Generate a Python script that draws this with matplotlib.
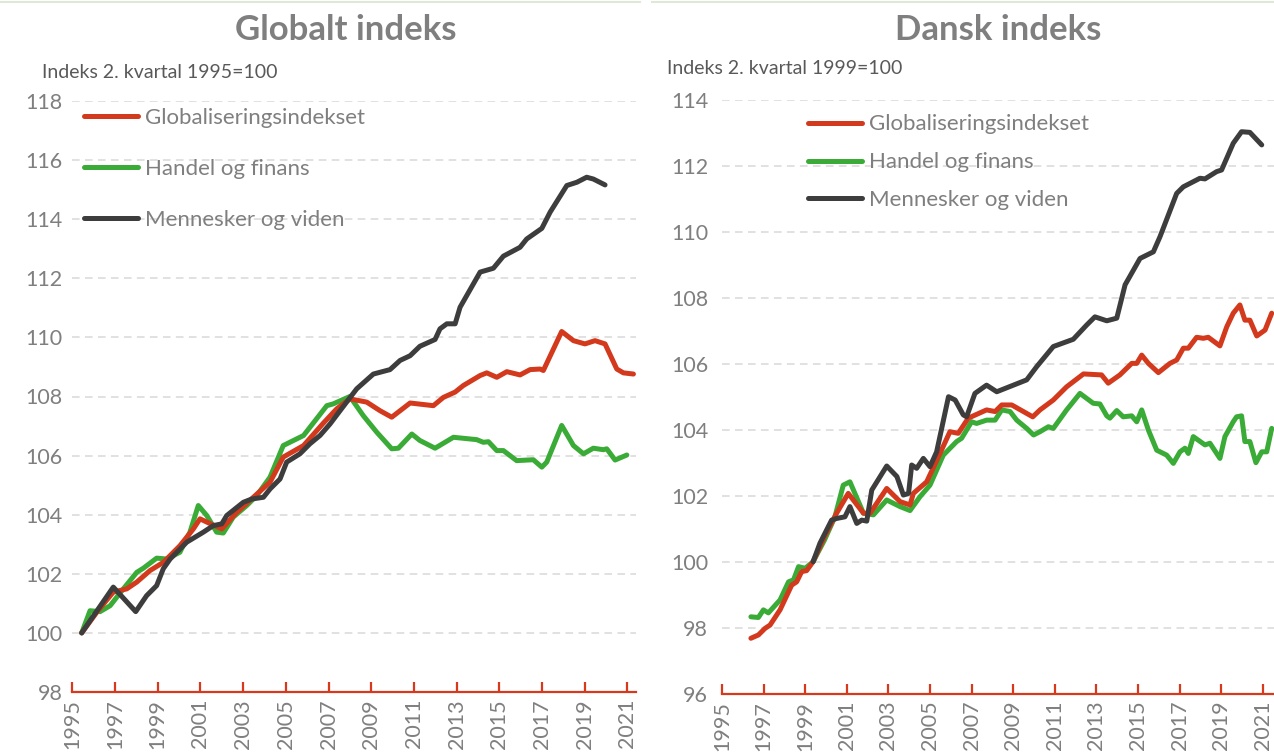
import matplotlib
matplotlib.use("Agg")
import matplotlib.pyplot as plt
import numpy as np

# ---------------- data ----------------
series_names = ["Globaliseringsindekset", "Handel og finans", "Mennesker og viden"]

glob_red_x = [1995.44, 1996.2, 1996.92, 1997.55, 1998.02, 1998.64, 1999.27, 2000.04, 2000.67, 2000.98,
              2001.30, 2002.00, 2002.70, 2003.48, 2004.26, 2004.88, 2005.83, 2006.76, 2007.38, 2008.00,
              2008.79, 2009.41, 2009.96, 2010.82, 2011.91, 2012.38, 2012.93, 2013.31, 2014.10, 2014.41,
              2014.88, 2015.35, 2015.97, 2016.44, 2016.91, 2017.06, 2017.92, 2018.47, 2019.01, 2019.48,
              2019.95, 2020.50, 2020.81, 2021.28]
glob_red_y = [100.0, 100.75, 101.38, 101.49, 101.72, 102.11, 102.39, 102.95, 103.52, 103.86,
              103.75, 103.52, 104.08, 104.59, 105.10, 105.95, 106.34, 107.10, 107.58, 107.92,
              107.81, 107.52, 107.30, 107.78, 107.69, 107.97, 108.15, 108.37, 108.71, 108.80,
              108.65, 108.84, 108.73, 108.91, 108.93, 108.88, 110.20, 109.89, 109.78, 109.89,
              109.78, 108.93, 108.80, 108.76]

glob_green_x = [1995.44, 1995.83, 1996.30, 1996.77, 1997.39, 1998.02, 1998.33, 1998.95, 1999.42, 2000.04,
                2000.51, 2000.90, 2001.30, 2001.76, 2002.07, 2002.54, 2003.17, 2003.64, 2004.26, 2004.88,
                2005.83, 2006.92, 2007.22, 2008.00, 2008.63, 2009.26, 2009.96, 2010.27, 2010.90, 2011.28,
                2011.99, 2012.85, 2013.94, 2014.25, 2014.49, 2014.88, 2015.19, 2015.81, 2016.59, 2016.99,
                2017.22, 2017.92, 2018.47, 2018.94, 2019.40, 2019.87, 2020.03, 2020.42, 2020.97]
glob_green_y = [100.0, 100.75, 100.72, 100.92, 101.49, 102.05, 102.19, 102.53, 102.50, 102.73,
                103.41, 104.31, 103.97, 103.41, 103.38, 103.92, 104.31, 104.65, 105.27, 106.34,
                106.68, 107.69, 107.75, 108.00, 107.35, 106.79, 106.23, 106.25, 106.73, 106.51,
                106.25, 106.62, 106.54, 106.45, 106.47, 106.17, 106.17, 105.83, 105.86, 105.61,
                105.78, 107.02, 106.34, 106.06, 106.25, 106.20, 106.23, 105.85, 106.02]

glob_black_x = [1995.44, 1996.92, 1997.97, 1998.48, 1998.95, 1999.26, 1999.58, 2000.36, 2001.14, 2001.60,
                2002.00, 2002.23, 2003.01, 2003.40, 2003.95, 2004.26, 2004.73, 2005.04, 2005.66, 2006.13,
                2006.60, 2007.07, 2007.54, 2008.32, 2009.10, 2009.88, 2010.35, 2010.82, 2011.28, 2011.99,
                2012.22, 2012.54, 2012.93, 2013.16, 2014.10, 2014.72, 2015.19, 2015.97, 2016.28, 2016.99,
                2017.38, 2018.16, 2018.63, 2019.09, 2019.40, 2019.95]
glob_black_y = [100.0, 101.55, 100.72, 101.26, 101.60, 102.17, 102.50, 103.07, 103.41, 103.63,
                103.69, 103.97, 104.42, 104.53, 104.59, 104.87, 105.21, 105.78, 106.06, 106.40,
                106.68, 107.07, 107.52, 108.26, 108.76, 108.91, 109.22, 109.38, 109.70, 109.93,
                110.29, 110.46, 110.46, 111.02, 112.21, 112.34, 112.75, 113.05, 113.33, 113.69,
                114.24, 115.14, 115.25, 115.42, 115.36, 115.16]

dk_red_x = [1996.39, 1996.75, 1997.07, 1997.31, 1997.79, 1998.35, 1998.59, 1998.83, 1999.07, 1999.38,
            1999.93, 2000.51, 2001.07, 2001.80, 2002.12, 2002.92, 2003.56, 2004.04, 2004.20, 2004.84,
            2005.48, 2005.96, 2006.36, 2006.84, 2007.72, 2008.13, 2008.45, 2008.93, 2009.94, 2010.29,
            2010.93, 2011.57, 2012.38, 2013.25, 2013.57, 2014.13, 2014.70, 2014.94, 2015.18, 2015.50,
            2015.98, 2016.54, 2016.86, 2017.18, 2017.42, 2017.82, 2018.14, 2018.38, 2018.94, 2019.27,
            2019.58, 2019.90, 2020.14, 2020.38, 2020.71, 2021.11, 2021.43]
dk_red_y = [97.68, 97.78, 97.98, 98.08, 98.54, 99.29, 99.39, 99.70, 99.73, 100.0,
            100.76, 101.47, 102.07, 101.47, 101.47, 102.22, 101.82, 101.72, 102.07, 102.42,
            103.28, 103.94, 103.89, 104.35, 104.60, 104.55, 104.75, 104.75, 104.39, 104.60,
            104.90, 105.30, 105.69, 105.66, 105.41, 105.66, 106.01, 106.01, 106.26, 106.01,
            105.73, 106.01, 106.11, 106.47, 106.47, 106.80, 106.77, 106.80, 106.54, 107.12,
            107.53, 107.78, 107.32, 107.32, 106.84, 107.02, 107.53]

dk_green_x = [1996.39, 1996.75, 1996.99, 1997.23, 1997.79, 1998.20, 1998.44, 1998.68, 1999.00, 1999.38,
              1999.93, 2000.43, 2000.83, 2001.15, 2001.80, 2002.28, 2002.92, 2003.56, 2004.04, 2004.52,
              2005.00, 2005.64, 2006.28, 2006.52, 2007.00, 2007.24, 2007.72, 2008.13, 2008.45, 2008.85,
              2009.17, 2009.65, 2009.98, 2010.29, 2010.69, 2010.93, 2011.57, 2012.21, 2012.85, 2013.17,
              2013.50, 2013.65, 2013.98, 2014.29, 2014.70, 2014.94, 2015.18, 2015.50, 2015.90, 2016.38,
              2016.70, 2017.02, 2017.26, 2017.42, 2017.66, 2018.22, 2018.46, 2018.94, 2019.18, 2019.58,
              2019.74, 2019.98, 2020.14, 2020.38, 2020.67, 2020.95, 2021.19, 2021.43]
dk_green_y = [98.33, 98.31, 98.54, 98.45, 98.84, 99.39, 99.45, 99.85, 99.80, 100.0,
              100.66, 101.36, 102.32, 102.42, 101.47, 101.42, 101.87, 101.67, 101.55, 101.97,
              102.32, 103.23, 103.64, 103.74, 104.24, 104.19, 104.29, 104.29, 104.60, 104.55,
              104.29, 104.04, 103.84, 103.94, 104.09, 104.04, 104.60, 105.10, 104.80, 104.78,
              104.42, 104.35, 104.58, 104.39, 104.42, 104.24, 104.60, 103.99, 103.38, 103.23,
              102.98, 103.33, 103.44, 103.28, 103.79, 103.54, 103.59, 103.13, 103.79, 104.24,
              104.39, 104.42, 103.64, 103.64, 103.00, 103.33, 103.33, 104.04]

dk_black_x = [1999.38, 1999.71, 2000.27, 2000.51, 2000.91, 2001.15, 2001.48, 2001.72, 2001.96, 2002.20,
              2002.92, 2003.41, 2003.72, 2003.97, 2004.12, 2004.36, 2004.68, 2005.00, 2005.32, 2005.89,
              2006.21, 2006.60, 2006.76, 2007.16, 2007.72, 2008.21, 2009.01, 2009.65, 2010.13, 2010.93,
              2011.89, 2012.53, 2012.93, 2013.50, 2013.98, 2014.38, 2015.10, 2015.74, 2016.06, 2016.86,
              2017.18, 2017.98, 2018.22, 2018.78, 2019.02, 2019.58, 2019.98, 2020.38, 2020.95]
dk_black_y = [100.0, 100.56, 101.26, 101.31, 101.36, 101.67, 101.16, 101.26, 101.23, 102.17,
              102.90, 102.58, 102.02, 102.07, 102.93, 102.83, 103.13, 102.88, 103.33, 105.00,
              104.90, 104.45, 104.39, 105.10, 105.35, 105.15, 105.35, 105.51, 105.91, 106.52,
              106.74, 107.17, 107.42, 107.30, 107.38, 108.39, 109.19, 109.39, 109.85, 111.16,
              111.36, 111.62, 111.60, 111.82, 111.87, 112.68, 113.03, 113.01, 112.63]

tick_years = list(range(1995, 2022, 2))
titles = ["Globalt indeks", "Dansk indeks"]
unit_labels = ["Indeks 2. kvartal 1995=100", "Indeks 2. kvartal 1999=100"]

# ---------------- style ----------------
plt.rcParams['font.family'] = ['Lato', 'DejaVu Sans']
RED = '#d3391c'
GREEN = '#3aab36'
BLACK = '#3d3d3d'
GRAY = '#7f7f7f'
GRID = '#d9d9d9'
AXRED = '#d6391c'

W, H = 1274, 756
fig = plt.figure(figsize=(W / 100, H / 100), dpi=100)


def fx(px):
    return px / W


def fy(py):
    return 1 - py / H


def setup(ax, ylim, yticks, xlim, pad):
    ax.set_xlim(*xlim)
    ax.set_ylim(*ylim)
    ax.set_yticks(yticks)
    ax.set_xticks(tick_years)
    ax.set_xticklabels([str(y) for y in tick_years], rotation=90)
    for s in ['left', 'right', 'top']:
        ax.spines[s].set_visible(False)
    ax.spines['bottom'].set_color(AXRED)
    ax.spines['bottom'].set_linewidth(1.6)
    ax.tick_params(axis='x', direction='in', length=7, width=1.6, color=AXRED,
                   labelcolor=GRAY, labelsize=15.5, pad=5)
    ax.tick_params(axis='y', length=0, labelcolor=GRAY, labelsize=15.5, pad=pad)
    ax.grid(axis='y', color=GRID, linewidth=1.1, linestyle=(0, (5, 3.5)))
    ax.set_axisbelow(True)


def draw_series(ax, xs, ys):
    colors = [RED, GREEN, BLACK]
    zorders = [3, 2, 4]
    for x, y, c, z, name in zip(xs, ys, colors, zorders, series_names):
        ax.plot(x, y, color=c, lw=3.6, solid_joinstyle='round', solid_capstyle='round',
                label=name, zorder=z)


legend_kw = dict(loc='upper left', bbox_transform=fig.transFigure, frameon=False, fontsize=16,
                 labelcolor=GRAY, handlelength=2.45, handletextpad=0.3, borderpad=0, borderaxespad=0)

# left panel
ax1 = fig.add_axes([fx(72.3), fy(692), fx(636) - fx(72.3), fy(101) - fy(692)])
setup(ax1, (98, 118), range(98, 119, 2), (1995, 2021.4), 7)
draw_series(ax1, [glob_red_x, glob_green_x, glob_black_x], [glob_red_y, glob_green_y, glob_black_y])
ax1.legend(bbox_to_anchor=(fx(84), fy(107.5)), labelspacing=1.41, **legend_kw)

# right panel
ax2 = fig.add_axes([fx(722), fy(693.7), fx(1274) - fx(722), fy(99.7) - fy(693.7)])
setup(ax2, (96, 114), range(96, 115, 2), (1995, 2021.54), 10)
draw_series(ax2, [dk_red_x, dk_green_x, dk_black_x], [dk_red_y, dk_green_y, dk_black_y])
ax2.legend(bbox_to_anchor=(fx(808), fy(114.5)), labelspacing=0.8, **legend_kw)

# titles and unit labels
fig.text(fx(346), fy(30), titles[0], ha='center', va='center', fontsize=25, fontweight='bold', color=GRAY)
fig.text(fx(998), fy(30), titles[1], ha='center', va='center', fontsize=25, fontweight='bold', color=GRAY)
fig.text(fx(42), fy(73), unit_labels[0], ha='left', va='center', fontsize=14, color='#595959')
fig.text(fx(667), fy(68), unit_labels[1], ha='left', va='center', fontsize=14, color='#595959')

# faint frame line at top
fig.add_artist(matplotlib.lines.Line2D([0, fx(640)], [fy(1.5), fy(1.5)], color='#dfe8d6', lw=1.5))
fig.add_artist(matplotlib.lines.Line2D([fx(652), 1], [fy(1.5), fy(1.5)], color='#dfe8d6', lw=1.5))

fig.savefig("out.png", dpi=100)
